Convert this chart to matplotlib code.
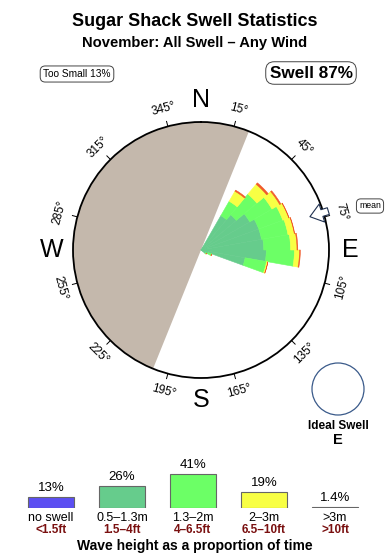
import numpy as np
import matplotlib
matplotlib.use("Agg")
import matplotlib.pyplot as plt
from matplotlib.patches import Ellipse

plt.rcParams['font.family'] = ['Liberation Sans', 'DejaVu Sans']

# Rose bins (direction the swell comes from, deg) and stacked radii (100 = outer circle)
bin_dirs = [35, 45, 55, 65, 75, 85, 95, 105, 115, 125]
r_small = [31, 36, 44, 48, 48, 49, 51, 35, 6, 4]      # 0.5-1.3m
r_mid = [13, 21, 20, 20, 21, 21, 22, 17, 3, 1]        # 1.3-2m
r_big = [9, 10, 7, 5, 5, 5, 4, 1, 0, 0]               # 2-3m
r_huge = [1, 1.5, 1, 0.3, 0.3, 0.6, 0.6, 0, 0, 0]     # >3m

shadow_from = 202   # land/sheltered sector, clockwise from 202 to 22
shadow_to = 22
mean_dir = 73

deg_ticks = [15, 45, 75, 105, 135, 165, 195, 225, 255, 285, 315, 345]
compass = ['N', 'E', 'S', 'W']
compass_deg = [0, 90, 180, 270]

# Legend: share of time for each wave height class
classes = ['no swell', '0.5\u20131.3m', '1.3\u20132m', '2\u20133m', '>3m']
feet = ['<1.5ft', '1.5\u20134ft', '4\u20136.5ft', '6.5\u201310ft', '>10ft']
shares = [13, 26, 41, 19, 1.4]
share_labels = ['13%', '26%', '41%', '19%', '1.4%']
class_colors = ['#5c4ff2', '#66cc8c', '#6cff66', '#f8ff44', '#8b2a2a']
rose_colors = ['#66cc8c', '#6cff66', '#f8ff44', '#f05a2a']

fig = plt.figure(figsize=(3.9, 5.6), dpi=100)
W, H = 390.0, 560.0

def fx(px):
    return px / W

def fy(py):
    return 1 - py / H

fig.text(0.5, fy(21), 'Sugar Shack Swell Statistics', ha='center', va='center',
         fontsize=13, fontweight='bold')
fig.text(0.5, fy(43), 'November: All Swell \u2013 Any Wind', ha='center', va='center',
         fontsize=10.6, fontweight='bold')

fig.text(fx(77), fy(74), 'Too Small 13%', ha='center', va='center', fontsize=7.3,
         bbox=dict(boxstyle='round,pad=0.3,rounding_size=0.5', fc='white', ec='#444444', lw=0.7))
fig.text(fx(311), fy(73), 'Swell 87%', ha='center', va='center', fontsize=12.3, fontweight='bold',
         bbox=dict(boxstyle='round,pad=0.22,rounding_size=0.5', fc='white', ec='#444444', lw=0.7))

# rose
cx, cy, rad = 201, 250, 128
ax = fig.add_axes([fx(cx - rad), fy(cy + rad), 2 * rad / W, 2 * rad / H], projection='polar')
ax.set_theta_zero_location('N')
ax.set_theta_direction(-1)
ax.set_ylim(0, 100)
ax.set_xticks([])
ax.set_yticks([])
ax.grid(False)
ax.spines['polar'].set_linewidth(1.3)

span = (shadow_to - shadow_from) % 360
ax.bar(np.deg2rad(shadow_from + span / 2), 100, width=np.deg2rad(span), color='#c4b8ac',
       linewidth=0, zorder=1)

theta = np.deg2rad(bin_dirs)
bottom = np.zeros(len(bin_dirs))
for vals, col in zip([r_small, r_mid, r_big, r_huge], rose_colors):
    ax.bar(theta, vals, width=np.deg2rad(10), bottom=bottom, color=col, edgecolor=col,
           linewidth=0.4, zorder=2)
    bottom = bottom + np.array(vals)

for d in deg_ticks:
    t = np.deg2rad(d)
    ax.plot([t, t], [100, 104], color='black', lw=0.7, clip_on=False)
    rot = 180 - d if 90 < d < 270 else -d
    ax.text(t, 114, f'{d}\u00b0', ha='center', va='center', rotation=rot,
            rotation_mode='anchor', fontsize=8.5, clip_on=False)

for lab, d in zip(compass, compass_deg):
    ax.text(np.deg2rad(d), 117, lab, ha='center', va='center', fontsize=18, clip_on=False)

# mean direction arrow, pointing in towards the centre
arr = ax.annotate('', xy=(np.deg2rad(mean_dir), 89), xytext=(np.deg2rad(mean_dir), 104),
                  arrowprops=dict(arrowstyle='simple,head_width=0.75,head_length=0.5,tail_width=0.28',
                                  mutation_scale=18, fc='white', ec='#1f3050', lw=0.8,
                                  shrinkA=0, shrinkB=0),
                  annotation_clip=False)
arr.arrow_patch.set_clip_on(False)
arr.arrow_patch.set_zorder(6)
fig.text(fx(370), fy(206), 'mean', ha='center', va='center', fontsize=6.3,
         bbox=dict(boxstyle='round,pad=0.3,rounding_size=0.5', fc='white', ec='#444444', lw=0.7))

# ideal swell marker
fig.add_artist(Ellipse((fx(338), fy(389)), 52 / W, 52 / H, transform=fig.transFigure,
                       fill=False, ec='#3a5a8a', lw=0.9))
fig.text(fx(338), fy(426), 'Ideal Swell', ha='center', va='center', fontsize=8.5, fontweight='bold')
fig.text(fx(338), fy(440), 'E', ha='center', va='center', fontsize=10.5, fontweight='bold')

# legend bars
lax = fig.add_axes([fx(15.5), fy(508), 355 / W, 50 / H])
x = np.arange(len(classes))
lax.bar(x, shares, width=0.634, color=class_colors, edgecolor='#666666', linewidth=0.8)
lax.set_xlim(-0.5, len(classes) - 0.5)
lax.set_ylim(0, 60)
lax.axis('off')
for i in range(len(classes)):
    lax.annotate(share_labels[i], (x[i], shares[i]), xytext=(0, 6.5), textcoords='offset points',
                 ha='center', va='center', fontsize=9.5)
    lax.annotate(classes[i], (x[i], 0), xytext=(0, -7.5), textcoords='offset points',
                 ha='center', va='center', fontsize=9)
    lax.annotate(feet[i], (x[i], 0), xytext=(0, -15.5), textcoords='offset points',
                 ha='center', va='center', fontsize=8.5, color='#7a1010', fontweight='bold')
fig.text(0.5, fy(546), 'Wave height as a proportion of time', ha='center', va='center',
         fontsize=10, fontweight='bold')

fig.savefig('out.png', dpi=100)
